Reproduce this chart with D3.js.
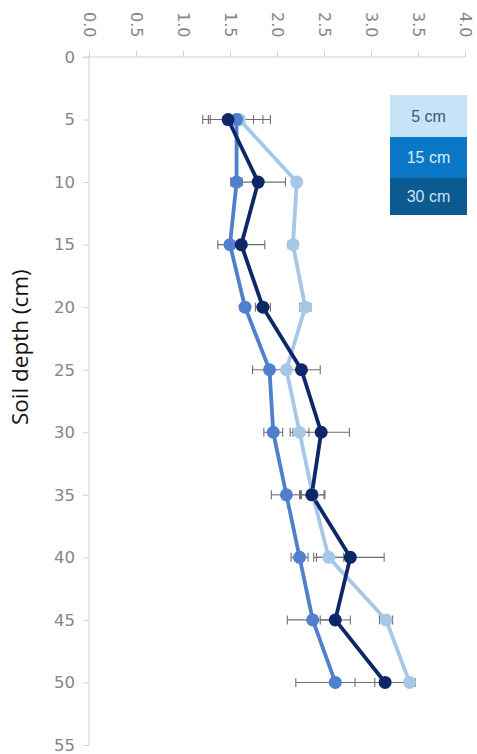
<!DOCTYPE html>
<html>
<head>
<meta charset="utf-8">
<script src="https://cdn.jsdelivr.net/npm/d3@7/dist/d3.min.js"></script>
<style>
  html, body { margin: 0; padding: 0; background: #ffffff; }
  svg { display: block; }
</style>
</head>
<body>
<svg id="chart" width="477" height="754"></svg>
<script>
// Soil depth (cm) sampled down the profile
const depths = [5, 10, 15, 20, 25, 30, 35, 40, 45, 50];

// Series names
const seriesNames = ["5 cm", "15 cm", "30 cm"];

// Mean values per depth for each series
const values5cm  = [1.60, 2.21, 2.17, 2.30, 2.10, 2.24, 2.38, 2.55, 3.16, 3.41];
const values15cm = [1.57, 1.57, 1.50, 1.66, 1.92, 1.96, 2.10, 2.24, 2.38, 2.62];
const values30cm = [1.48, 1.80, 1.62, 1.85, 2.26, 2.47, 2.37, 2.78, 2.62, 3.15];

// Error half-widths per depth for each series
const errors5cm  = [0.33, 0.04, 0.05, 0.06, 0.04, 0.10, 0.13, 0.16, 0.07, 0.04];
const errors15cm = [0.28, 0.06, 0.04, 0.03, 0.18, 0.10, 0.16, 0.09, 0.27, 0.42];
const errors30cm = [0.27, 0.29, 0.25, 0.08, 0.20, 0.30, 0.13, 0.36, 0.16, 0.32];

// Axis tick labels
const xTicks = [0.0, 0.5, 1.0, 1.5, 2.0, 2.5, 3.0, 3.5, 4.0];
const yTicks = [0, 5, 10, 15, 20, 25, 30, 35, 40, 45, 50, 55];

const lineColors   = ["#a7c7e7", "#4f7fcd", "#0e2768"];
const legendFills  = ["#c6e3f7", "#0a78c6", "#0b5a91"];
const legendInk    = ["#3b5670", "#dcecf8", "#cfe3f2"];

const series = [
  { name: seriesNames[0], values: values5cm,  errors: errors5cm  },
  { name: seriesNames[1], values: values15cm, errors: errors15cm },
  { name: seriesNames[2], values: values30cm, errors: errors30cm }
];

const svg = d3.select("#chart");

const x = d3.scaleLinear().domain([0, 4]).range([89, 465]);
const y = d3.scaleLinear().domain([0, 55]).range([57, 745]);

const axisColor = "#d2d2d2";
const labelColor = "#858585";

// Value axis along the top, labels turned to read downward
const xAxis = svg.append("g")
  .attr("transform", `translate(0,${y(0)})`)
  .call(d3.axisTop(x).tickValues(xTicks).tickFormat(d3.format(".1f")).tickSize(6).tickSizeOuter(0));
xAxis.select(".domain").remove();
xAxis.append("line")
  .attr("x1", x(0) - 6).attr("x2", x(4))
  .attr("y1", 0).attr("y2", 0)
  .attr("stroke", axisColor);
xAxis.selectAll(".tick line").attr("stroke", axisColor);
xAxis.selectAll(".tick text")
  .attr("transform", "rotate(90)")
  .attr("x", -45).attr("y", 0).attr("dy", "0.35em")
  .attr("text-anchor", "start")
  .attr("fill", labelColor)
  .style("font-family", "DejaVu Sans")
  .style("font-size", "16px");

// Depth axis on the left
const yAxis = svg.append("g")
  .attr("transform", `translate(${x(0)},0)`)
  .call(d3.axisLeft(y).tickValues(yTicks).tickSize(6).tickSizeOuter(0));
yAxis.select(".domain").remove();
yAxis.append("line")
  .attr("x1", 0).attr("x2", 0)
  .attr("y1", y(0)).attr("y2", y(55))
  .attr("stroke", axisColor);
yAxis.selectAll(".tick line").attr("stroke", axisColor);
yAxis.selectAll(".tick text")
  .attr("x", -14)
  .attr("fill", labelColor)
  .style("font-family", "DejaVu Sans")
  .style("font-size", "16.5px");

// Axis title
svg.append("text")
  .attr("transform", `translate(28,${y(23.2)}) rotate(-90)`)
  .attr("text-anchor", "middle")
  .attr("fill", "#111")
  .style("font-family", "Open Sans")
  .style("font-size", "22.5px")
  .text("Soil depth (cm)");

const plot = svg.append("g");

const line = d3.line()
  .x(d => x(d.v))
  .y(d => y(d.depth));

const rows = series.map(s => s.values.map((v, i) => ({ v, e: s.errors[i], depth: depths[i] })));

// Lines
series.forEach((s, k) => {
  plot.append("path")
    .datum(rows[k])
    .attr("fill", "none")
    .attr("stroke", lineColors[k])
    .attr("stroke-width", 3.8)
    .attr("stroke-linejoin", "round")
    .attr("d", line);
});

// Error bars
const capH = 4.5;
series.forEach((s, k) => {
  const g = plot.append("g").attr("stroke", "#6f6f6f").attr("stroke-width", 1.1);
  rows[k].forEach(d => {
    const x0 = x(d.v - d.e), x1 = x(d.v + d.e), yy = y(d.depth);
    g.append("line").attr("x1", x0).attr("x2", x1).attr("y1", yy).attr("y2", yy);
    g.append("line").attr("x1", x0).attr("x2", x0).attr("y1", yy - capH).attr("y2", yy + capH);
    g.append("line").attr("x1", x1).attr("x2", x1).attr("y1", yy - capH).attr("y2", yy + capH);
  });
});

// Markers
series.forEach((s, k) => {
  plot.append("g").selectAll("circle")
    .data(rows[k])
    .join("circle")
    .attr("cx", d => x(d.v))
    .attr("cy", d => y(d.depth))
    .attr("r", 6.5)
    .attr("fill", lineColors[k]);
});

// Legend
const legend = svg.append("g").attr("transform", "translate(390,95)");
const boxH = [42, 41, 37];
let yOff = 0;
seriesNames.forEach((name, k) => {
  const g = legend.append("g").attr("transform", `translate(0,${yOff})`);
  g.append("rect").attr("width", 77).attr("height", boxH[k]).attr("fill", legendFills[k]);
  g.append("text")
    .attr("x", 38.5).attr("y", boxH[k] / 2).attr("dy", "0.35em")
    .attr("text-anchor", "middle")
    .attr("fill", legendInk[k])
    .style("font-family", "Liberation Sans")
    .style("font-size", "16px")
    .text(name);
  yOff += boxH[k];
});
</script>
</body>
</html>
